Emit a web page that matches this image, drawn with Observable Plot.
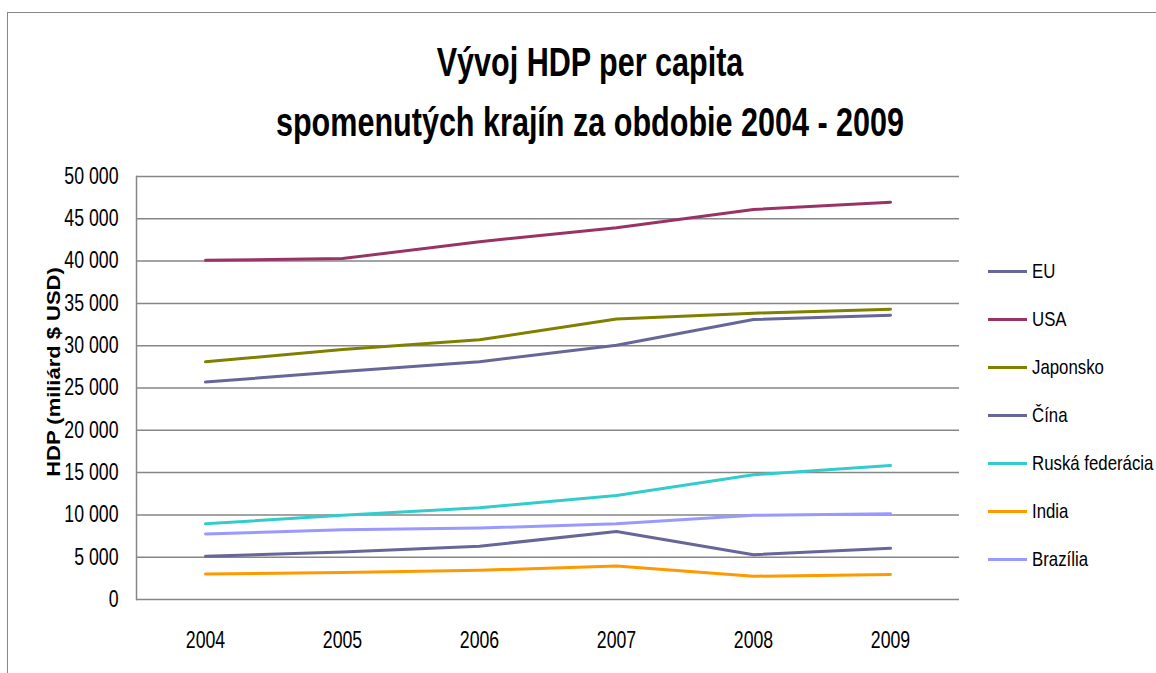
<!DOCTYPE html>
<html>
<head>
<meta charset="utf-8">
<script src="https://cdn.jsdelivr.net/npm/d3@7"></script>
<script src="https://cdn.jsdelivr.net/npm/@observablehq/plot@0.6"></script>
<style>
  html, body { margin: 0; padding: 0; background: #fff; overflow: hidden; }
  #wrap { position: relative; width: 1156px; height: 673px; overflow: hidden;
          font-family: "Liberation Sans", Arial, sans-serif; color: #000; }
  #border { position: absolute; left: 7px; top: 12px; width: 1300px; height: 800px;
            border: 1.5px solid #878787; box-sizing: border-box; }
  #chart { position: absolute; left: 0; top: 0; }
  .tline { position: absolute; left: 0; width: 1180px; text-align: center; font-weight: bold;
           font-size: 41px; line-height: 41px; white-space: nowrap; transform: scaleX(0.745); transform-origin: 590px 0; }
  #ytitle { position: absolute; left: 54px; top: 372px; transform: translate(-50%, -50%) rotate(-90deg) scaleX(1.22);
            font-weight: bold; font-size: 18px; line-height: 18px; white-space: nowrap; }
  .leg { position: absolute; left: 988px; height: 0; white-space: nowrap; }
  .leg .sw { position: absolute; left: 0; top: -1.5px; width: 39px; height: 3px; }
  .leg .lb { position: absolute; left: 44px; top: -12px; font-size: 21px; line-height: 24px;
             transform: scaleX(0.80); transform-origin: 0 50%; }
</style>
</head>
<body>
<div id="wrap">
  <div id="border"></div>
  <div id="chart"></div>
  <div class="tline" id="t1"></div>
  <div class="tline" id="t2"></div>
  <div id="ytitle"></div>
  <div id="legend"></div>
</div>
<script>
// ---- data ----
const titleLines = ["Vývoj HDP per capita", "spomenutých krajín za obdobie 2004 - 2009"];
const yAxisTitle = "HDP (miliárd $ USD)";
const years = ["2004", "2005", "2006", "2007", "2008", "2009"];
const seriesNames = ["EU", "USA", "Japonsko", "Čína", "Ruská federácia", "India", "Brazília"];
const seriesColors = ["#666699", "#993366", "#808000", "#666699", "#33CCCC", "#FF9900", "#9999FF"];
const valuesEU = [25700, 26950, 28100, 30050, 33100, 33600];
const valuesUSA = [40100, 40300, 42300, 43950, 46100, 46950];
const valuesJaponsko = [28100, 29550, 30700, 33150, 33850, 34300];
const valuesCina = [5100, 5600, 6300, 8050, 5300, 6050];
const valuesRusko = [8950, 9950, 10850, 12300, 14750, 15850];
const valuesIndia = [3000, 3200, 3450, 3950, 2750, 2950];
const valuesBrazilia = [7750, 8250, 8450, 8950, 9950, 10150];
const yTicks = [0, 5000, 10000, 15000, 20000, 25000, 30000, 35000, 40000, 45000, 50000];

const seriesValues = [valuesEU, valuesUSA, valuesJaponsko, valuesCina, valuesRusko, valuesIndia, valuesBrazilia];
const data = [];
seriesNames.forEach((name, i) => {
  years.forEach((yr, j) => data.push({series: name, year: yr, value: seriesValues[i][j]}));
});

const fmt = v => d3.format(",")(v).replace(/,/g, " ");

const chart = Plot.plot({
  width: 1156,
  height: 673,
  marginTop: 176,
  marginBottom: 74,
  marginLeft: 136,
  marginRight: 197,
  style: { background: "transparent", fontFamily: "'Liberation Sans', Arial, sans-serif", fontSize: "23px", color: "#000", overflow: "visible" },
  x: { type: "point", domain: years, padding: 0.5 },
  y: { domain: [0, 50000] },
  color: { domain: seriesNames, range: seriesColors },
  marks: [
    Plot.ruleY(yTicks, { stroke: "#868686", strokeWidth: 1.5 }),
    Plot.frame({ anchor: "left", stroke: "#868686", strokeWidth: 1.5 }),
    Plot.line(data, { x: "year", y: "value", z: "series", stroke: "series", strokeWidth: 3, strokeLinejoin: "round", curve: "linear" }),
    Plot.axisY({ ticks: yTicks, tickSize: 0, tickPadding: 18, tickFormat: fmt, label: null }),
    Plot.axisX({ tickSize: 0, tickPadding: 32, label: null })
  ]
});
// narrow the tick label glyphs horizontally (condensed look of the original)
chart.querySelectorAll("text").forEach(t => {
  const tr = t.getAttribute("transform") || "";
  t.setAttribute("transform", `${tr} scale(0.77,1)`);
});
document.getElementById("chart").appendChild(chart);

// title
const t1 = document.getElementById("t1");
const t2 = document.getElementById("t2");
t1.textContent = titleLines[0];
t2.textContent = titleLines[1];
t1.style.top = "42px";
t2.style.top = "102px";

document.getElementById("ytitle").textContent = yAxisTitle;

// legend
const legend = document.getElementById("legend");
const legendY = [271, 319, 367, 415, 463, 511, 559];
seriesNames.forEach((name, i) => {
  const row = document.createElement("div");
  row.className = "leg";
  row.style.top = legendY[i] + "px";
  const sw = document.createElement("div");
  sw.className = "sw";
  sw.style.background = seriesColors[i];
  const lb = document.createElement("div");
  lb.className = "lb";
  lb.textContent = name;
  row.appendChild(sw);
  row.appendChild(lb);
  legend.appendChild(row);
});
</script>
</body>
</html>
